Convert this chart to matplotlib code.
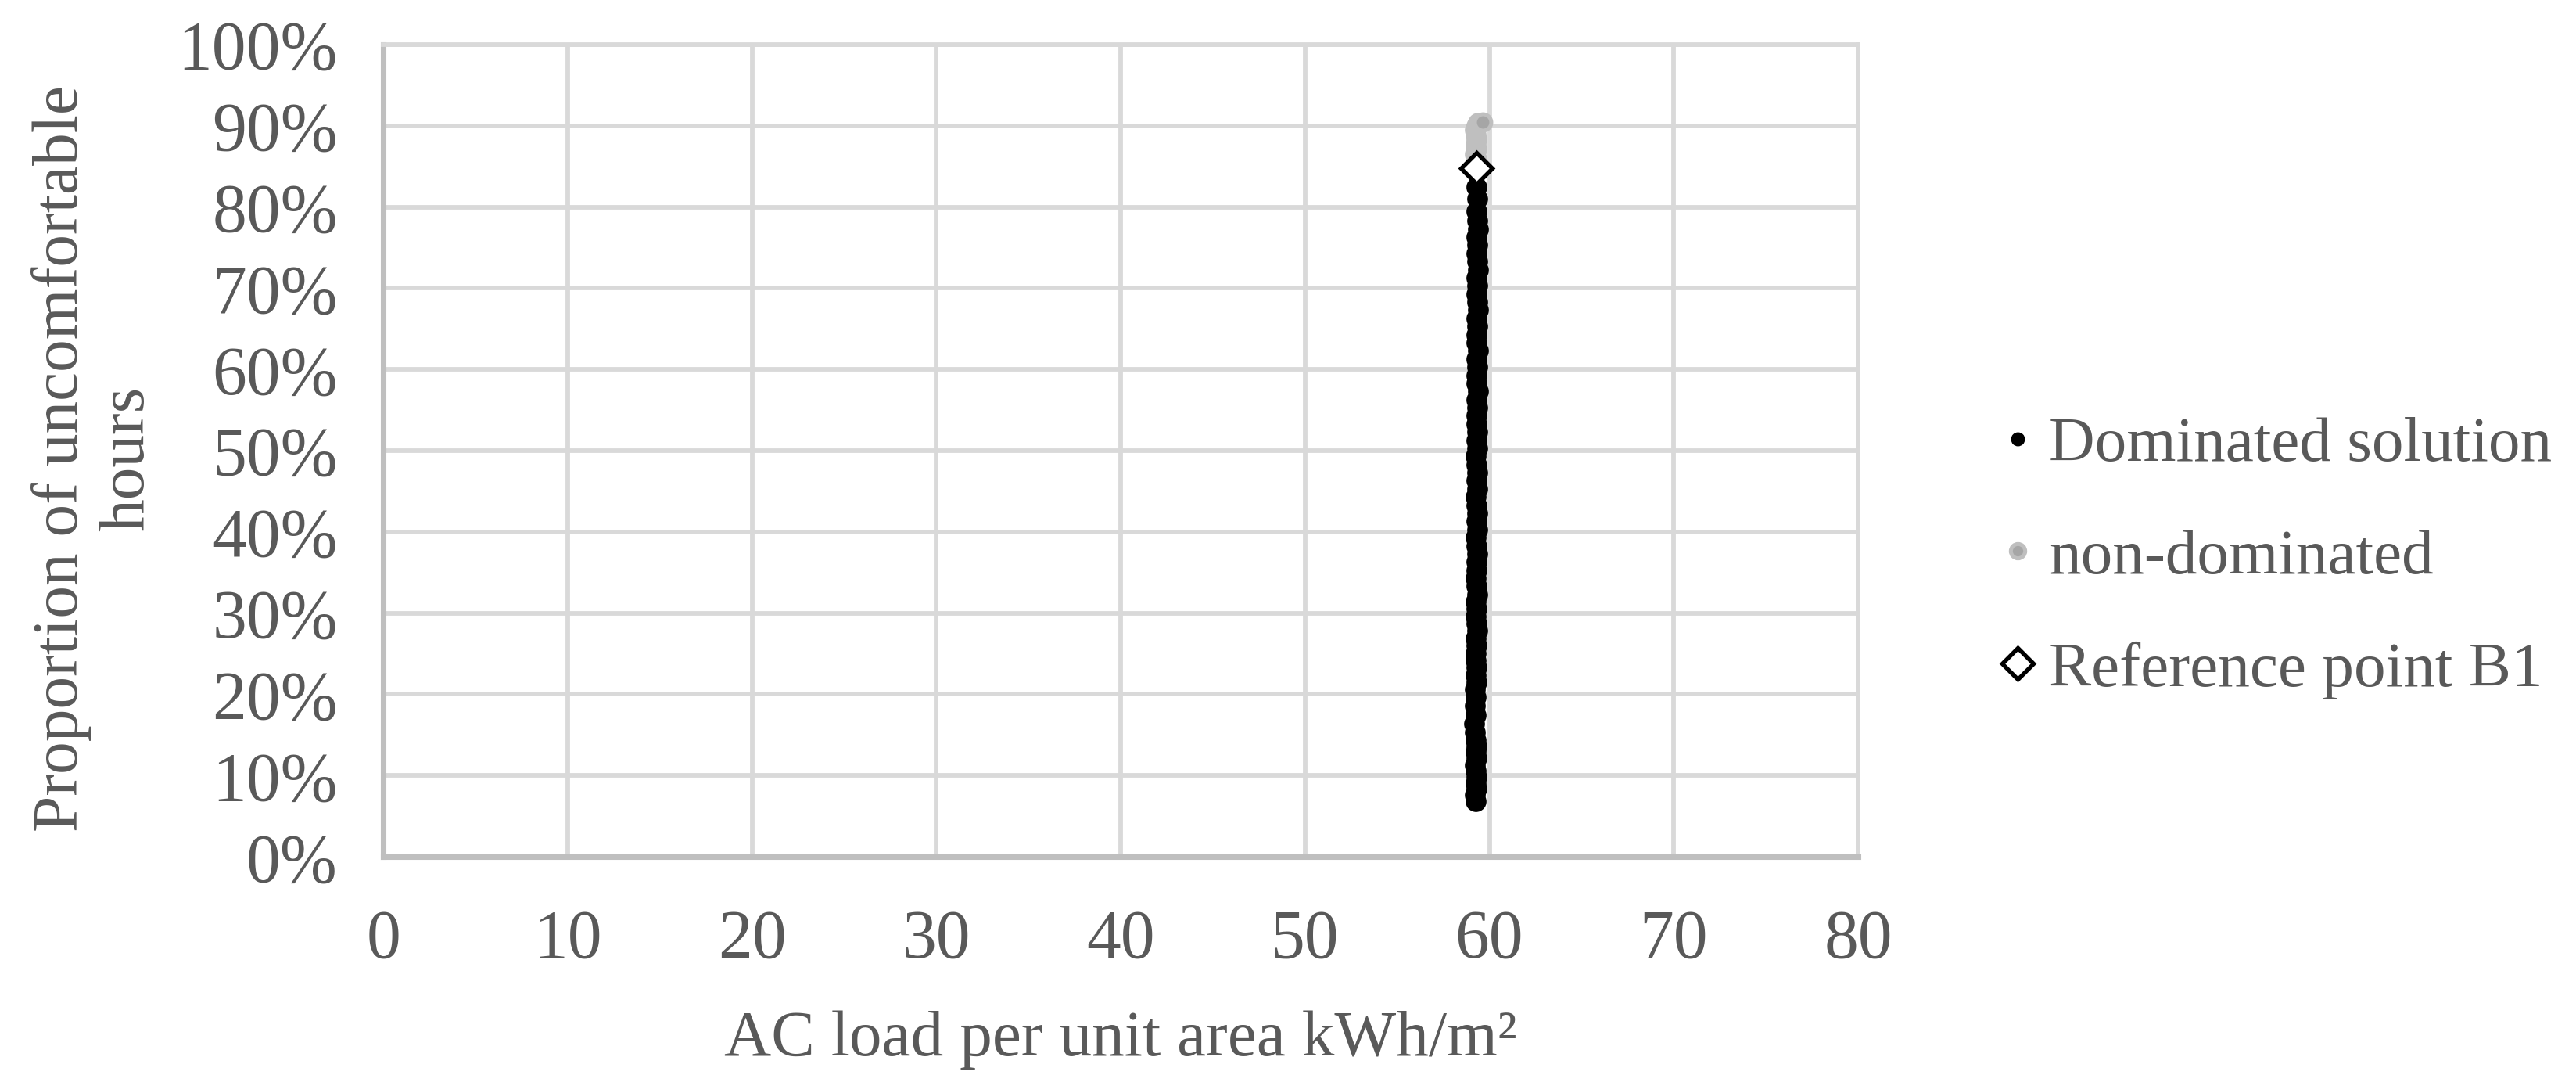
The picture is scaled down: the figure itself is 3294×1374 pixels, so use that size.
import matplotlib
matplotlib.use("Agg")
import matplotlib.pyplot as plt
from matplotlib.lines import Line2D
from matplotlib.ticker import PercentFormatter

plt.rcParams['font.family'] = ['Liberation Serif', 'DejaVu Serif']

# Dominated solutions (AC load kWh/m2, proportion of uncomfortable hours %)
dom_x = [59.25, 59.22, 59.28, 59.24, 59.30, 59.26, 59.22, 59.29, 59.25, 59.31,
         59.27, 59.21, 59.18, 59.24, 59.20, 59.26, 59.23, 59.29, 59.25, 59.32,
         59.27, 59.24, 59.30, 59.26, 59.33, 59.28, 59.24, 59.31, 59.27, 59.34,
         59.29, 59.25, 59.32, 59.28, 59.35, 59.30, 59.26, 59.33, 59.29, 59.35,
         59.30, 59.27, 59.34, 59.30, 59.36, 59.31, 59.27, 59.34, 59.30, 59.36,
         59.31, 59.28, 59.35, 59.31, 59.37, 59.32, 59.28, 59.35, 59.31, 59.37,
         59.32, 59.29, 59.36, 59.32, 59.38, 59.33, 59.29, 59.36, 59.32, 59.38,
         59.33, 59.30, 59.36, 59.32, 59.37, 59.33, 59.30, 59.35, 59.32]
dom_y = [6.8, 7.6, 8.4, 9.1, 9.8, 10.6, 11.3, 12.1, 12.9, 13.6,
         14.4, 15.3, 16.4, 17.4, 18.6, 19.7, 20.6, 21.5, 22.4, 23.3,
         24.2, 25.1, 26.0, 26.9, 27.8, 28.7, 29.6, 30.5, 31.4, 32.3,
         33.3, 34.3, 35.3, 36.3, 37.3, 38.3, 39.3, 40.3, 41.3, 42.3,
         43.3, 44.3, 45.3, 46.3, 47.3, 48.3, 49.3, 50.3, 51.3, 52.3,
         53.3, 54.3, 55.3, 56.3, 57.3, 58.3, 59.3, 60.3, 61.3, 62.3,
         63.3, 64.3, 65.3, 66.3, 67.3, 68.3, 69.3, 70.3, 71.3, 72.3,
         73.3, 74.3, 75.3, 76.3, 77.3, 78.3, 79.5, 81.0, 82.5]

# Non-dominated solutions
non_x = [59.25, 59.30, 59.22, 59.28, 59.24, 59.31, 59.26, 59.22, 59.30, 59.40, 59.62]
non_y = [85.3, 85.9, 86.5, 87.1, 87.7, 88.3, 88.9, 89.5, 90.0, 90.4, 90.5]

# Reference point B1
ref_x = [59.3]
ref_y = [84.8]

fig = plt.figure(figsize=(10.98, 4.58), dpi=300)
ax = fig.add_axes([0.1488, 0.203, 0.5725, 0.7555])

ax.plot(dom_x, dom_y, 'o', color='black', markersize=6.4, markeredgewidth=0, zorder=3)
ax.plot(non_x[:-1], non_y[:-1], 'o', color='#BFBFBF', markersize=6.4, markeredgewidth=0, zorder=2)
ax.plot(non_x[-1:], non_y[-1:], 'o', markerfacecolor='#A6A6A6', markeredgecolor='#BFBFBF',
        markersize=5.0, markeredgewidth=1.2, zorder=2)
ax.plot(ref_x, ref_y, 'D', markerfacecolor='white', markeredgecolor='black',
        markersize=6.8, markeredgewidth=1.3, zorder=4)

ax.set_xlim(0, 80)
ax.set_ylim(0, 100)
ax.set_xticks(range(0, 81, 10))
ax.set_yticks(range(0, 101, 10))
ax.yaxis.set_major_formatter(PercentFormatter(decimals=0))

ax.grid(True, color='#D9D9D9', linewidth=1.4)
ax.set_axisbelow(True)
for side in ['top', 'right']:
    ax.spines[side].set_color('#D9D9D9')
    ax.spines[side].set_linewidth(1.4)
for side in ['left', 'bottom']:
    ax.spines[side].set_color('#BFBFBF')
    ax.spines[side].set_linewidth(1.7)

ax.tick_params(axis='both', length=0, labelsize=21, labelcolor='#595959')
ax.tick_params(axis='y', pad=14)
ax.tick_params(axis='x', pad=16)

ax.set_xlabel('AC load per unit area kWh/m²', fontsize=20, color='#595959', va='center')
ax.xaxis.set_label_coords(0.5, -0.226)
ax.set_ylabel('Proportion of uncomfortable\nhours', fontsize=20, color='#595959',
              linespacing=1.15, va='center')
ax.yaxis.set_label_coords(-0.196, 0.49)

handles = [
    Line2D([], [], linestyle='none', marker='o', color='black', markersize=4.3, markeredgewidth=0),
    Line2D([], [], linestyle='none', marker='o', markerfacecolor='#A6A6A6', markeredgecolor='#BFBFBF',
           markersize=4.4, markeredgewidth=1.2),
    Line2D([], [], linestyle='none', marker='D', markerfacecolor='white', markeredgecolor='black',
           markersize=6.8, markeredgewidth=1.3),
]
labels = ['Dominated solution', 'non-dominated', 'Reference point B1']
leg = fig.legend(handles, labels, loc='center left', bbox_to_anchor=(0.777, 0.481),
                 frameon=False, fontsize=19.5, handlelength=0.5, handletextpad=0.25,
                 borderpad=0, borderaxespad=0, labelspacing=0.86)
for t in leg.get_texts():
    t.set_color('#595959')

fig.savefig('out.png', dpi=300, facecolor='white')
